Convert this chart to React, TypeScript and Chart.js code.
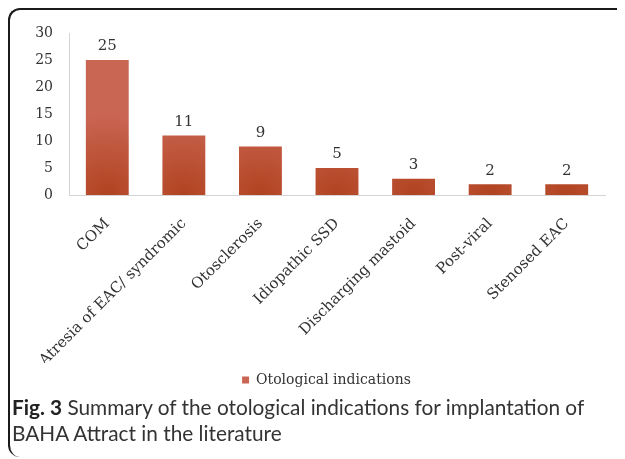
import React, { useEffect, useRef } from "react";
import { Chart, registerables } from "chart.js";

Chart.register(...registerables);

const categories = [
  "COM",
  "Atresia of EAC/ syndromic",
  "Otosclerosis",
  "Idiopathic SSD",
  "Discharging mastoid",
  "Post-viral",
  "Stenosed EAC",
];
const values = [25, 11, 9, 5, 3, 2, 2];
const seriesName = "Otological indications";
const yTicks = [0, 5, 10, 15, 20, 25, 30];

const SERIF = "'DejaVu Serif', serif";

const valueLabels = {
  id: "valueLabels",
  afterLayout(chart: any) {
    if (chart.legend) {
      chart.legend.left += 38;
    }
  },
  afterDatasetsDraw(chart: any) {
    const ctx = chart.ctx;
    const meta = chart.getDatasetMeta(0);
    ctx.save();
    ctx.font = `15px ${SERIF}`;
    ctx.fillStyle = "#333333";
    ctx.textAlign = "center";
    ctx.textBaseline = "bottom";
    meta.data.forEach((bar: any, i: number) => {
      ctx.fillText(String(values[i]), bar.x, bar.y - 6);
    });
    ctx.restore();
  },
};

export default function App() {
  const ref = useRef<HTMLCanvasElement>(null);
  useEffect(() => {
    if (!ref.current) return;
    const chart = new Chart(ref.current, {
      type: "bar",
      data: {
        labels: categories,
        datasets: [
          {
            label: seriesName,
            data: values,
            barPercentage: 0.56,
            categoryPercentage: 1,
            borderWidth: 0,
            backgroundColor: (c: any) => {
              const ch = c.chart;
              if (!ch.chartArea || c.type !== "data") return "#c0543e";
              const x = ch.scales.x.getPixelForValue(c.dataIndex);
              const base = ch.scales.y.getPixelForValue(0);
              const g = ch.ctx.createRadialGradient(x, base, 0, x, base, 80);
              g.addColorStop(0, "#b0431f");
              g.addColorStop(0.45, "#bc5236");
              g.addColorStop(1, "#c96553");
              return g;
            },
          },
        ],
      },
      options: {
        animation: false,
        responsive: false,
        maintainAspectRatio: false,
        layout: { padding: { top: 23, right: 18, left: 0, bottom: 0 } },
        plugins: {
          legend: {
            position: "bottom",
            labels: {
              boxWidth: 7,
              boxHeight: 7,
              padding: 10,
              color: "#333333",
              font: { family: SERIF, size: 14 },
            },
          },
          tooltip: { enabled: false },
        },
        scales: {
          x: {
            grid: { display: false },
            border: { display: true, color: "#d4d4d4" },
            ticks: {
              minRotation: 45,
              maxRotation: 45,
              padding: 12,
              color: "#333333",
              font: { family: SERIF, size: 15 },
            },
            afterFit: (s: any) => {
              s.height = 168;
            },
          },
          y: {
            min: 0,
            max: 30,
            grid: { display: false },
            border: { display: true, color: "#d4d4d4" },
            afterBuildTicks: (s: any) => {
              s.ticks = yTicks.map((v) => ({ value: v }));
            },
            ticks: {
              padding: 8,
              color: "#333333",
              font: { family: SERIF, size: 14 },
            },
            afterFit: (s: any) => {
              s.width = 59;
            },
          },
        },
      },
      plugins: [valueLabels],
    });
    return () => chart.destroy();
  }, []);

  return (
    <div
      style={{
        position: "relative",
        width: 615,
        height: 447,
        borderTop: "2px solid #1a1a1a",
        borderLeft: "2px solid #1a1a1a",
        borderTopLeftRadius: 12,
        borderBottomLeftRadius: 12,
      }}
    >
      <canvas
        ref={ref}
        width={613}
        height={387}
        style={{ position: "absolute", left: 0, top: 0, width: 613, height: 387 }}
      />
      <div
        style={{
          position: "absolute",
          left: 2,
          top: 384,
          width: 610,
          fontFamily: "Lato, sans-serif",
          fontSize: 20.8,
          lineHeight: "26px",
          color: "#333333",
          whiteSpace: "nowrap",
        }}
      >
        <span style={{ fontWeight: 700, color: "#222222" }}>Fig. 3</span> Summary of the otological
        indications for implantation of
        <br />
        BAHA Attract in the literature
      </div>
    </div>
  );
}
